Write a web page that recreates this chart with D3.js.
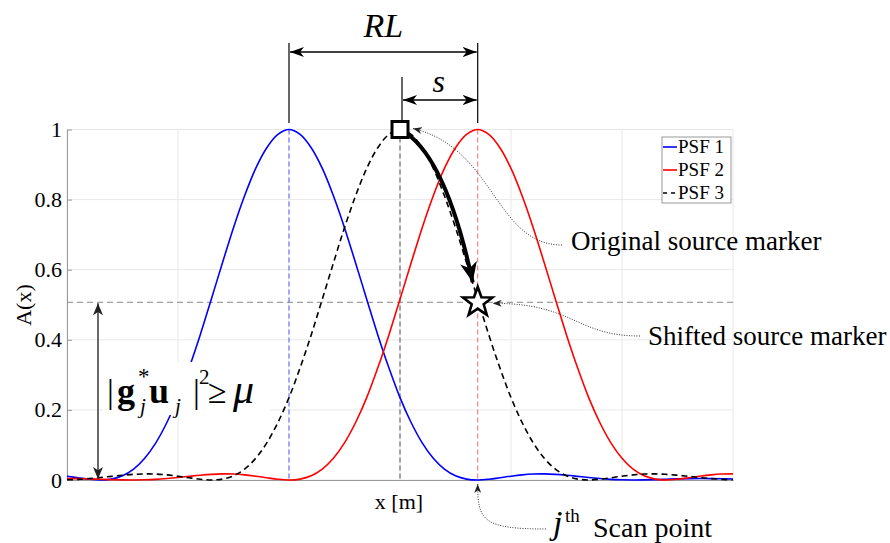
<!DOCTYPE html>
<html><head><meta charset="utf-8">
<script src="https://cdn.jsdelivr.net/npm/d3@7"></script>
<style>
body{margin:0;background:#fff}
text{font-family:"Liberation Serif","Times New Roman",serif;fill:#000}
</style>
</head><body>
<svg id="chart" width="890" height="543"></svg>
<script>
// ---- data ----
const xGrid = [0,0.1,0.2,0.3,0.4,0.5,0.6,0.7,0.8,0.9,1.0,1.1,1.2,1.3,1.4,1.5,1.6,1.7,1.8,1.9,2.0,
  2.1,2.2,2.3,2.4,2.5,2.6,2.7,2.8,2.9,3.0,3.1,3.2,3.3,3.4,3.5,3.6,3.7,3.8,3.9,4.0,
  4.1,4.2,4.3,4.4,4.5,4.6,4.7,4.8,4.9,5.0,5.1,5.2,5.3,5.4,5.5,5.6,5.7,5.8,5.9,6.0];
const psf1 = [0.0109,0.0063,0.0022,0.0001,0.0026,0.012,0.031,0.062,0.106,0.164,0.235,0.320,0.414,0.516,0.619,0.720,0.811,0.889,0.948,0.986,1.000,
  0.986,0.948,0.889,0.811,0.720,0.619,0.516,0.414,0.320,0.235,0.164,0.106,0.062,0.031,0.012,0.0026,0.0001,0.0022,0.0063,0.0109,
  0.0147,0.0170,0.0174,0.0161,0.0136,0.0104,0.0070,0.0041,0.0018,0.0005,0.0000,0.0003,0.0011,0.0021,0.0031,0.0038,0.0041,0.0040,0.0036,0.0029];
const psf2 = [0.0041,0.0038,0.0031,0.0021,0.0011,0.0003,0.0000,0.0005,0.0018,0.0041,0.0070,0.0104,0.0136,0.0161,0.0174,0.0170,0.0147,0.0109,0.0063,0.0022,0.0001,
  0.0026,0.012,0.031,0.062,0.106,0.164,0.235,0.320,0.414,0.516,0.619,0.720,0.811,0.889,0.948,0.986,1.000,0.986,0.948,0.889,
  0.811,0.720,0.619,0.516,0.414,0.320,0.235,0.164,0.106,0.062,0.031,0.012,0.0026,0.0001,0.0022,0.0063,0.0109,0.0147,0.0170,0.0174];
const psf3 = [0.0005,0.0018,0.0041,0.0070,0.0104,0.0136,0.0161,0.0174,0.0170,0.0147,0.0109,0.0063,0.0022,0.0001,0.0026,0.012,0.031,0.062,0.106,0.164,0.235,
  0.320,0.414,0.516,0.619,0.720,0.811,0.889,0.948,0.986,1.000,0.986,0.948,0.889,0.811,0.720,0.619,0.516,0.414,0.320,0.235,
  0.164,0.106,0.062,0.031,0.012,0.0026,0.0001,0.0022,0.0063,0.0109,0.0147,0.0170,0.0174,0.0161,0.0136,0.0104,0.0070,0.0041,0.0018,0.0005];
const seriesNames = ["PSF 1","PSF 2","PSF 3"];
const peakX = [2.0, 3.7, 3.0];      // peak positions of PSF 1, PSF 2, PSF 3
const yTicks = [0,0.2,0.4,0.6,0.8,1];
const xGridTicks = [0,1,2,3,4,5,6];
const mu = 0.507;                    // threshold level (shifted marker)

// ---- setup ----
const svg = d3.select("#chart");
svg.append("rect").attr("width",890).attr("height",543).attr("fill","#fff");
const x = d3.scaleLinear().domain([0,6]).range([67,733]);
const y = d3.scaleLinear().domain([0,1]).range([480,129.5]);

const defs = svg.append("defs");
function marker(id, w, h, color){
  defs.append("marker").attr("id",id).attr("markerUnits","userSpaceOnUse")
    .attr("viewBox",`0 0 ${w} ${h}`).attr("markerWidth",w).attr("markerHeight",h)
    .attr("refX",w).attr("refY",h/2).attr("orient","auto-start-reverse")
    .append("path").attr("d",`M0,0 L${w},${h/2} L0,${h} L${w*0.28},${h/2} Z`).attr("fill",color);
}
marker("arr",14,10,"#000");
marker("arrG",12,10,"#222");
marker("big",20,17,"#000");
marker("small",9,7,"#222");

// grid
const g = svg.append("g");
g.selectAll(".hg").data(yTicks).enter().append("line")
  .attr("x1",x(0)).attr("x2",x(6)).attr("y1",d=>y(d)).attr("y2",d=>y(d))
  .attr("stroke","#e8e8e8").attr("stroke-width",1);
g.selectAll(".vg").data(xGridTicks).enter().append("line")
  .attr("x1",d=>x(d)).attr("x2",d=>x(d)).attr("y1",y(0)).attr("y2",y(1))
  .attr("stroke","#e8e8e8").attr("stroke-width",1);

// axes
const yAxis = svg.append("g").attr("transform",`translate(${x(0)},0)`)
  .call(d3.axisLeft(y).tickValues(yTicks).tickFormat(d3.format("")).tickSize(-5).tickSizeOuter(0).tickPadding(5));
yAxis.select(".domain").attr("stroke","#999");
yAxis.selectAll(".tick line").attr("stroke","#999");
yAxis.selectAll("text").style("font-family","'Liberation Serif',serif").style("font-size","22px").attr("fill","#222");
const xAxis = svg.append("g").attr("transform",`translate(0,${y(0)})`)
  .call(d3.axisBottom(x).tickValues([]).tickSizeOuter(0));
xAxis.select(".domain").attr("stroke","#999");

// threshold dashed line
svg.append("line").attr("x1",x(0)).attr("x2",x(6)).attr("y1",y(mu)).attr("y2",y(mu))
  .attr("stroke","#888").attr("stroke-width",1).attr("stroke-dasharray","6,4");

// vertical dashed lines at peaks
const vcols = ["#5a5aff","#ff6a6a","#777"];
peakX.forEach((p,i)=>{
  svg.append("line").attr("x1",x(p)).attr("x2",x(p)).attr("y1",y(1)).attr("y2",y(0))
    .attr("stroke",vcols[i]).attr("stroke-width",i===2?1.3:1).attr("stroke-dasharray","5,3");
});

// curves
const line = d3.line().x((d,i)=>x(xGrid[i])).y(d=>y(d)).curve(d3.curveCatmullRom.alpha(0.5));
svg.append("path").datum(psf1).attr("d",line).attr("fill","none").attr("stroke","#0000ff").attr("stroke-width",1.6);
svg.append("path").datum(psf2).attr("d",line).attr("fill","none").attr("stroke","#ff0000").attr("stroke-width",1.6);
svg.append("path").datum(psf3).attr("d",line).attr("fill","none").attr("stroke","#000").attr("stroke-width",1.6).attr("stroke-dasharray","6,4");

// vertical double arrow for threshold
svg.append("line").attr("x1",98).attr("x2",98).attr("y1",y(mu)+1).attr("y2",y(0)-1)
  .attr("stroke","#444").attr("stroke-width",1.6)
  .attr("marker-start","url(#arrG)").attr("marker-end","url(#arrG)");

// equation box
svg.append("rect").attr("x",103).attr("y",362).attr("width",167).attr("height",53).attr("fill","#fff");
const eq = svg.append("g");
function t(txt,xx,yy,size,opts={}){
  const e = eq.append("text").attr("x",xx).attr("y",yy).style("font-size",size+"px").text(txt);
  if(opts.bold) e.style("font-weight","bold");
  if(opts.italic) e.style("font-style","italic");
  return e;
}
t("|",107,403,34);
t("g",117,403,36,{bold:true});
t("*",138,384,23);
t("j",140,413,21,{italic:true});
t("u",149,403,36,{bold:true});
t("j",175,413,21,{italic:true});
t("|",193,403,34);
t("2",199,384,21);
t("≥",208,403,34);
t("μ",233,403,42,{italic:true});

// RL and s annotations
const xb = x(peakX[0]), xr = x(peakX[1]), xk = x(peakX[2]);
svg.append("line").attr("x1",xb).attr("x2",xb).attr("y1",43).attr("y2",123).attr("stroke","#000").attr("stroke-width",1.2);
svg.append("line").attr("x1",xr).attr("x2",xr).attr("y1",43).attr("y2",123).attr("stroke","#000").attr("stroke-width",1.2);
svg.append("line").attr("x1",xk+2).attr("x2",xk+2).attr("y1",77).attr("y2",120).attr("stroke","#000").attr("stroke-width",1.2);
svg.append("line").attr("x1",xb+1).attr("x2",xr-1).attr("y1",52).attr("y2",52).attr("stroke","#000").attr("stroke-width",1.3)
  .attr("marker-start","url(#arr)").attr("marker-end","url(#arr)");
svg.append("line").attr("x1",xk+3).attr("x2",xr-1).attr("y1",100).attr("y2",100).attr("stroke","#000").attr("stroke-width",1.3)
  .attr("marker-start","url(#arr)").attr("marker-end","url(#arr)");
svg.append("text").attr("x",(xb+xr)/2).attr("y",37).attr("text-anchor","middle")
  .style("font-size","34px").style("font-style","italic").text("RL");
svg.append("text").attr("x",(xk+xr)/2).attr("y",92).attr("text-anchor","middle")
  .style("font-size","32px").style("font-style","italic").text("s");

// thick arrow from original to shifted marker
const sx = xk, sy = y(1);
const hx = xr, hy = y(mu);
svg.append("path").attr("d",`M${sx+2},${sy+1} C${sx+32},${sy+18} ${sx+55},${sy+70} ${hx-5},${hy-20}`)
  .attr("fill","none").attr("stroke","#000").attr("stroke-width",4).attr("marker-end","url(#big)");

// original marker (square)
svg.append("rect").attr("x",sx-8).attr("y",sy-8).attr("width",16).attr("height",16)
  .attr("fill","#fff").attr("stroke","#000").attr("stroke-width",3);
// shifted marker (star)
const starPts = d3.range(10).map(i=>{
  const r = i%2===0 ? 15.5 : 6.3;
  const a = -Math.PI/2 + i*Math.PI/5;
  return [hx + r*Math.cos(a), hy + r*Math.sin(a)];
});
svg.append("path").attr("d","M"+starPts.map(p=>p.join(",")).join("L")+"Z")
  .attr("fill","#fff").attr("stroke","#000").attr("stroke-width",2.6).attr("stroke-linejoin","miter");

// dotted leader lines
svg.append("path").attr("d",`M562,245 C495,245 495,148 ${sx+13},${sy-1}`)
  .attr("fill","none").attr("stroke","#333").attr("stroke-width",1).attr("stroke-dasharray","1,1.5").attr("marker-end","url(#small)");
svg.append("path").attr("d",`M640,336 C575,336 575,${hy+1} ${hx+15},${hy+1}`)
  .attr("fill","none").attr("stroke","#333").attr("stroke-width",1).attr("stroke-dasharray","1,1.5").attr("marker-end","url(#small)");
svg.append("path").attr("d",`M546,529 C482,529 ${xr},520 ${xr},${y(0)+4}`)
  .attr("fill","none").attr("stroke","#333").attr("stroke-width",1).attr("stroke-dasharray","1,1.5").attr("marker-end","url(#small)");

// annotation texts
svg.append("text").attr("x",571).attr("y",250).style("font-size","27px").text("Original source marker");
svg.append("text").attr("x",648).attr("y",345).style("font-size","27px").text("Shifted source marker");
svg.append("text").attr("x",553).attr("y",534).style("font-size","34px").style("font-style","italic").text("j");
svg.append("text").attr("x",565).attr("y",522).style("font-size","19px").text("th");
svg.append("text").attr("x",593).attr("y",537).style("font-size","28px").text("Scan point");

// axis labels
svg.append("text").attr("x",399).attr("y",509).attr("text-anchor","middle").style("font-size","22px").attr("fill","#222").text("x [m]");
svg.append("text").attr("transform","translate(31,305) rotate(-90)").attr("text-anchor","middle")
  .style("font-size","22px").attr("fill","#222").text("A(x)");

// legend
const lg = svg.append("g");
lg.append("rect").attr("x",662).attr("y",137).attr("width",69).attr("height",66)
  .attr("fill","#fff").attr("stroke","#999").attr("stroke-width",1);
const lcols = ["#0000ff","#ff0000","#000"];
seriesNames.forEach((n,i)=>{
  const yy = 147 + i*23;
  lg.append("line").attr("x1",663).attr("x2",677).attr("y1",yy).attr("y2",yy)
    .attr("stroke",lcols[i]).attr("stroke-width",1.6).attr("stroke-dasharray",i===2?"4,4":null);
  lg.append("text").attr("x",678).attr("y",yy+6).style("font-size","19px").text(n);
});
</script>
</body></html>
